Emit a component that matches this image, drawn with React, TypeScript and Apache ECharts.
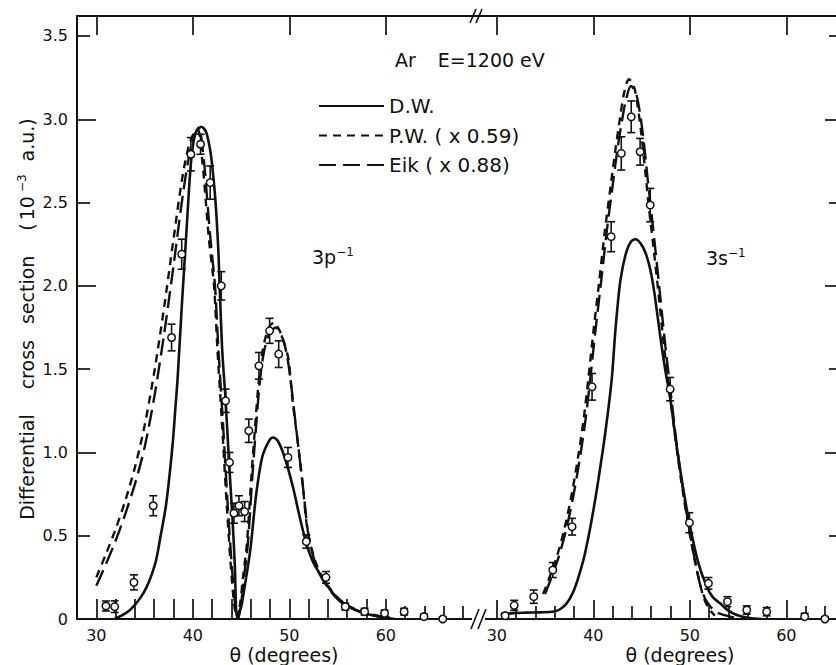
import React, { useEffect, useRef } from "react";
import * as echarts from "echarts";

const FONT = "'DejaVu Sans', 'Liberation Sans', sans-serif";
const INK = "#111111";

// ---------- 3p^-1 panel (left) ----------
const DW_3P_X = [31.9, 32.6, 33.3, 34.0, 34.6, 35.2, 35.7, 36.2, 36.7, 37.2, 37.6, 37.94, 38.2, 38.43, 38.84, 39.33, 39.77, 40.1, 40.4, 40.9, 41.4, 41.84, 42.1, 42.36, 42.64, 42.78, 43.06, 43.4, 43.74, 44.1, 44.36, 44.55, 44.75, 45.0, 45.25, 45.95, 46.55, 47.2, 47.9, 48.3, 48.8, 49.5, 50.37, 51.07, 51.76, 52.4, 53.14, 54.52, 55.9, 57.3, 59.0, 60.4];
const DW_3P_Y = [0, 0.02, 0.045, 0.085, 0.13, 0.19, 0.26, 0.354, 0.51, 0.674, 0.87, 1.07, 1.27, 1.45, 1.86, 2.315, 2.715, 2.875, 2.93, 2.955, 2.92, 2.8, 2.67, 2.5, 2.22, 2.0, 1.6, 1.315, 0.954, 0.614, 0.314, 0.02, 0.04, 0.07, 0.15, 0.41, 0.74, 0.974, 1.07, 1.09, 1.07, 0.974, 0.794, 0.614, 0.454, 0.35, 0.274, 0.154, 0.084, 0.044, 0.018, 0.008];

const PW_3P_X = [30.0, 31.0, 32.0, 33.0, 34.0, 35.0, 36.0, 37.0, 38.0, 39.0, 39.8, 40.5, 41.0, 41.33, 41.67, 42.2, 42.55, 43.0, 43.5, 43.9, 44.3, 44.6, 44.9, 45.2, 45.6, 46.1, 46.45, 46.8, 47.2, 47.8, 48.4, 49.0, 49.5, 49.93, 50.3, 50.9, 51.4, 51.9, 52.8, 54.0, 55.55, 57.3, 59.5, 61.0];
const PW_3P_Y = [0.25, 0.39, 0.54, 0.71, 0.91, 1.16, 1.48, 1.86, 2.28, 2.68, 2.88, 2.94, 2.74, 2.52, 2.28, 2.0, 1.62, 1.2, 0.7, 0.35, 0.08, 0.0, 0.09, 0.25, 0.45, 0.88, 1.15, 1.405, 1.6, 1.74, 1.78, 1.73, 1.65, 1.555, 1.33, 1.05, 0.8, 0.53, 0.33, 0.2, 0.1, 0.05, 0.015, 0.0];

const EIK_3P_X = [30.0, 31.0, 32.0, 33.0, 34.0, 35.0, 36.0, 37.0, 38.0, 39.0, 39.8, 40.6, 41.1, 41.45, 41.8, 42.3, 42.65, 43.1, 43.6, 44.0, 44.4, 44.7, 45.0, 45.3, 45.7, 46.2, 46.55, 46.9, 47.3, 47.9, 48.6, 49.2, 49.7, 50.1, 50.5, 51.0, 51.5, 52.0, 52.9, 54.1, 55.6, 57.3, 59.5, 61.0];
const EIK_3P_Y = [0.2, 0.33, 0.47, 0.63, 0.81, 1.03, 1.33, 1.7, 2.12, 2.56, 2.83, 2.95, 2.78, 2.55, 2.3, 2.0, 1.62, 1.2, 0.7, 0.35, 0.08, 0.0, 0.09, 0.25, 0.45, 0.88, 1.15, 1.4, 1.58, 1.71, 1.75, 1.7, 1.6, 1.45, 1.25, 1.0, 0.75, 0.5, 0.3, 0.18, 0.09, 0.045, 0.012, 0.0];

const EXP_3P_ANGLE = [31.0, 31.9, 33.9, 35.9, 37.8, 38.85, 39.8, 40.8, 41.8, 42.95, 43.4, 43.8, 44.26, 44.78, 45.37, 45.8, 46.85, 47.96, 48.9, 49.86, 51.76, 53.8, 55.8, 57.8, 59.87, 61.9, 63.95, 65.9];
const EXP_3P_VALUE = [0.078, 0.074, 0.22, 0.68, 1.69, 2.19, 2.79, 2.85, 2.62, 2.0, 1.31, 0.94, 0.635, 0.68, 0.645, 1.13, 1.52, 1.73, 1.59, 0.97, 0.465, 0.25, 0.074, 0.044, 0.034, 0.044, 0.014, 0.0];
const EXP_3P_ERROR = [0.03, 0.035, 0.045, 0.06, 0.08, 0.09, 0.1, 0.06, 0.1, 0.085, 0.07, 0.06, 0.06, 0.06, 0.06, 0.07, 0.08, 0.075, 0.08, 0.06, 0.04, 0.035, 0.02, 0.02, 0.02, 0.02, 0.015, 0.01];

// ---------- 3s^-1 panel (right) ----------
const DW_3S_X = [30.4, 31.7, 33.0, 34.5, 35.9, 36.6, 37.25, 37.9, 38.4, 39.0, 39.5, 40.0, 40.43, 41.2, 41.9, 42.3, 42.8, 43.4, 43.9, 44.4, 44.9, 45.4, 45.9, 46.3, 46.7, 47.1, 47.5, 47.96, 48.65, 49.34, 50.03, 50.9, 51.76, 52.4, 53.14, 54.0, 54.87, 56.0, 57.5];
const DW_3S_Y = [0.025, 0.035, 0.038, 0.04, 0.045, 0.06, 0.094, 0.16, 0.24, 0.36, 0.494, 0.65, 0.8, 1.1, 1.434, 1.74, 2.03, 2.2, 2.265, 2.28, 2.255, 2.2, 2.1, 1.97, 1.8, 1.63, 1.48, 1.33, 1.034, 0.774, 0.554, 0.334, 0.194, 0.13, 0.094, 0.05, 0.024, 0.008, 0.0];

const PW_3S_X = [34.8, 35.4, 36.2, 37.0, 37.8, 38.5, 39.0, 39.5, 40.0, 40.6, 41.2, 41.8, 42.3, 42.8, 43.2, 43.7, 44.2, 44.6, 45.0, 45.4, 45.8, 46.3, 46.8, 47.3, 47.96, 48.65, 49.34, 50.03, 50.6, 51.1, 51.5, 52.0, 52.6];
const PW_3S_Y = [0.15, 0.24, 0.37, 0.54, 0.76, 1.0, 1.2, 1.45, 1.72, 2.02, 2.33, 2.6, 2.82, 3.02, 3.16, 3.24, 3.2, 3.08, 2.9, 2.68, 2.45, 2.2, 1.93, 1.65, 1.34, 1.02, 0.74, 0.5, 0.33, 0.2, 0.12, 0.06, 0.02];

const EIK_3S_X = [35.0, 35.6, 36.4, 37.2, 38.0, 38.7, 39.2, 39.7, 40.2, 40.8, 41.4, 42.0, 42.5, 43.0, 43.4, 43.9, 44.4, 44.8, 45.2, 45.6, 46.0, 46.5, 47.0, 47.5, 48.1, 48.7, 49.4, 50.0, 50.6, 51.1, 51.6, 52.2, 52.8, 53.5, 54.5, 55.5];
const EIK_3S_Y = [0.15, 0.24, 0.37, 0.54, 0.76, 1.0, 1.2, 1.45, 1.72, 2.02, 2.33, 2.6, 2.82, 3.0, 3.12, 3.2, 3.16, 3.05, 2.88, 2.66, 2.45, 2.18, 1.9, 1.62, 1.32, 1.02, 0.74, 0.52, 0.33, 0.2, 0.12, 0.07, 0.04, 0.025, 0.01, 0.0];

const EXP_3S_ANGLE = [30.86, 31.8, 33.83, 35.8, 37.8, 39.87, 41.85, 42.9, 43.93, 44.85, 45.9, 47.96, 49.96, 51.93, 53.9, 55.9, 57.97, 61.9, 64.0];
const EXP_3S_VALUE = [0.02, 0.082, 0.134, 0.294, 0.554, 1.394, 2.295, 2.795, 3.015, 2.805, 2.485, 1.38, 0.578, 0.214, 0.104, 0.054, 0.044, 0.014, 0.0];
const EXP_3S_ERROR = [0.015, 0.03, 0.04, 0.045, 0.05, 0.08, 0.09, 0.1, 0.095, 0.08, 0.1, 0.07, 0.06, 0.035, 0.03, 0.025, 0.025, 0.02, 0.01];

// ---------- axes ----------
const Y_LABELS = [0, 0.5, 1.0, 1.5, 2.0, 2.5, 3.0, 3.5];
const Y_MAJOR_TICKS = [1, 2, 3];
const Y_MINOR_TICKS = [0.5, 1.5, 2.5, 3.5];
const X_LABELS = [30, 40, 50, 60];
const LEFT_LONG_TICKS = [30, 32, 34, 36, 38, 40, 42, 44, 46, 48, 50, 52, 54, 56, 58, 60];
const LEFT_SHORT_TICKS = [62, 64, 66, 68];
const RIGHT_SHORT_TICKS = [32, 34, 36, 38, 42, 44, 46, 48, 52, 54, 56, 58, 62, 64];
const TOP_TICKS = [30, 40, 50, 60];

const SERIES_NAMES = ["D.W.", "P.W. ( x 0.59)", "Eik ( x 0.88)"];

const pairs = (xs: number[], ys: number[]) => xs.map((x, i) => [x, ys[i]]);
const bars = (xs: number[], ys: number[], es: number[]) =>
  xs.map((x, i) => [x, Math.max(0, ys[i] - es[i]), ys[i] + es[i], ys[i]]);

export default function App() {
  const ref = useRef<HTMLDivElement>(null);

  useEffect(() => {
    if (!ref.current) return;
    const chart = echarts.init(ref.current, null, { renderer: "svg" });

    const axisLine = { show: true, lineStyle: { color: INK, width: 2 } };
    const tickStyle = { color: INK, width: 1.7 };
    const noLabel = { show: false };
    const noSplit = { show: false };

    const xBase = (grid: number, max: number) => ({
      type: "value",
      gridIndex: grid,
      min: 28,
      max,
      splitLine: noSplit,
    });
    const yBase = (grid: number) => ({
      type: "value",
      gridIndex: grid,
      min: 0,
      max: 3.62,
      splitLine: noSplit,
    });

    const lineSeries = (name: string, x: number, y: number, data: number[][], type: any, width: number) => ({
      type: "line",
      name,
      xAxisIndex: x,
      yAxisIndex: y,
      data,
      symbol: "none",
      showSymbol: false,
      smooth: 0.3,
      z: 2,
      lineStyle: { color: INK, width, type },
      itemStyle: { color: INK },
    });

    const R = 4.2;
    const errorSeries = (x: number, y: number, data: number[][]) => ({
      type: "custom",
      xAxisIndex: x,
      yAxisIndex: y,
      data,
      z: 3,
      encode: { x: 0, y: [1, 2] },
      renderItem: (params: any, api: any) => {
        const xv = api.value(0);
        const lo = api.coord([xv, api.value(1)]);
        const hi = api.coord([xv, api.value(2)]);
        const c = api.coord([xv, api.value(3)]);
        const w = 4;
        const st = { stroke: INK, lineWidth: 1.6 };
        const children: any[] = [
          { type: "line", shape: { x1: hi[0] - w, y1: hi[1], x2: hi[0] + w, y2: hi[1] }, style: st },
          { type: "line", shape: { x1: lo[0] - w, y1: lo[1], x2: lo[0] + w, y2: lo[1] }, style: st },
        ];
        if (c[1] - R > hi[1]) {
          children.push({ type: "line", shape: { x1: hi[0], y1: hi[1], x2: c[0], y2: c[1] - R }, style: st });
        }
        if (lo[1] > c[1] + R) {
          children.push({ type: "line", shape: { x1: c[0], y1: c[1] + R, x2: lo[0], y2: lo[1] }, style: st });
        }
        return { type: "group", children };
      },
    });

    const pointSeries = (x: number, y: number, data: number[][]) => ({
      type: "scatter",
      xAxisIndex: x,
      yAxisIndex: y,
      data,
      symbol: "circle",
      symbolSize: 7.5,
      z: 4,
      itemStyle: { color: "#ffffff", borderColor: INK, borderWidth: 1.5, opacity: 1 },
    });

    const PW_DASH = [8, 6];
    const EIK_DASH = [17, 7];

    const option: any = {
      animation: false,
      backgroundColor: "#ffffff",
      textStyle: { fontFamily: FONT, color: INK },
      grid: [
        { left: 77, top: 16, width: 400.5, height: 603 },
        { left: 477.5, top: 16, width: 358.5, height: 603 },
      ],
      legend: {
        data: SERIES_NAMES,
        orient: "vertical",
        left: 318,
        top: 95,
        padding: 0,
        itemWidth: 65,
        itemHeight: 14,
        itemGap: 7.5,
        selectedMode: false,
        itemStyle: { opacity: 0 },
        textStyle: { fontFamily: FONT, fontSize: 20, color: INK, lineHeight: 22 },
      },
      xAxis: [
        {
          ...xBase(0, 69.5),
          position: "bottom",
          axisLine,
          axisTick: { show: true, inside: true, length: 20, customValues: LEFT_LONG_TICKS, lineStyle: tickStyle },
          axisLabel: { show: true, customValues: X_LABELS, fontSize: 16, fontFamily: FONT, color: INK, margin: 8 },
        },
        {
          ...xBase(0, 69.5),
          position: "bottom",
          axisLine: { show: false },
          axisTick: { show: true, inside: true, length: 13, customValues: LEFT_SHORT_TICKS, lineStyle: tickStyle },
          axisLabel: noLabel,
        },
        {
          ...xBase(0, 69.5),
          position: "top",
          axisLine,
          axisTick: { show: true, inside: true, length: 19, customValues: TOP_TICKS, lineStyle: tickStyle },
          axisLabel: noLabel,
        },
        {
          ...xBase(1, 65.15),
          position: "bottom",
          axisLine,
          axisTick: { show: true, inside: true, length: 19, customValues: X_LABELS, lineStyle: tickStyle },
          axisLabel: { show: true, customValues: X_LABELS, fontSize: 16, fontFamily: FONT, color: INK, margin: 8 },
        },
        {
          ...xBase(1, 65.15),
          position: "bottom",
          axisLine: { show: false },
          axisTick: { show: true, inside: true, length: 13, customValues: RIGHT_SHORT_TICKS, lineStyle: tickStyle },
          axisLabel: noLabel,
        },
        {
          ...xBase(1, 65.15),
          position: "top",
          axisLine,
          axisTick: { show: true, inside: true, length: 19, customValues: TOP_TICKS, lineStyle: tickStyle },
          axisLabel: noLabel,
        },
      ],
      yAxis: [
        {
          ...yBase(0),
          position: "left",
          axisLine,
          axisTick: { show: true, inside: true, length: 19, customValues: Y_MAJOR_TICKS, lineStyle: tickStyle },
          axisLabel: {
            show: true,
            customValues: Y_LABELS,
            fontSize: 16,
            fontFamily: FONT,
            color: INK,
            margin: 9,
            formatter: (v: number) => (v === 0 ? "0" : v.toFixed(1)),
          },
        },
        {
          ...yBase(0),
          position: "left",
          axisLine: { show: false },
          axisTick: { show: true, inside: true, length: 13, customValues: Y_MINOR_TICKS, lineStyle: tickStyle },
          axisLabel: noLabel,
        },
        {
          ...yBase(1),
          position: "right",
          axisLine: { show: false },
          axisTick: { show: true, inside: true, length: 11, customValues: Y_MAJOR_TICKS, lineStyle: tickStyle },
          axisLabel: noLabel,
        },
        {
          ...yBase(1),
          position: "right",
          axisLine: { show: false },
          axisTick: { show: true, inside: true, length: 7, customValues: Y_MINOR_TICKS, lineStyle: tickStyle },
          axisLabel: noLabel,
        },
      ],
      series: [
        lineSeries(SERIES_NAMES[0], 0, 0, pairs(DW_3P_X, DW_3P_Y), "solid", 2.6),
        lineSeries(SERIES_NAMES[1], 0, 0, pairs(PW_3P_X, PW_3P_Y), PW_DASH, 2.4),
        lineSeries(SERIES_NAMES[2], 0, 0, pairs(EIK_3P_X, EIK_3P_Y), EIK_DASH, 2.4),
        lineSeries(SERIES_NAMES[0], 3, 2, pairs(DW_3S_X, DW_3S_Y), "solid", 2.6),
        lineSeries(SERIES_NAMES[1], 3, 2, pairs(PW_3S_X, PW_3S_Y), PW_DASH, 2.4),
        lineSeries(SERIES_NAMES[2], 3, 2, pairs(EIK_3S_X, EIK_3S_Y), EIK_DASH, 2.4),
        errorSeries(0, 0, bars(EXP_3P_ANGLE, EXP_3P_VALUE, EXP_3P_ERROR)),
        errorSeries(3, 2, bars(EXP_3S_ANGLE, EXP_3S_VALUE, EXP_3S_ERROR)),
        pointSeries(0, 0, pairs(EXP_3P_ANGLE, EXP_3P_VALUE)),
        pointSeries(3, 2, pairs(EXP_3S_ANGLE, EXP_3S_VALUE)),
      ],
      graphic: [
        // y axis title
        {
          type: "text",
          x: 27,
          y: 319,
          rotation: Math.PI / 2,
          z: 10,
          style: {
            text: "{a|Differential}{g1|cross}{g2|section}{g3|(}{t|10}{s|−3}{u|a.u.)}",
            align: "center",
            verticalAlign: "middle",
            fill: INK,
            rich: {
              a: { fontSize: 19, fontFamily: FONT, fill: INK, lineHeight: 22 },
              g1: { fontSize: 19, fontFamily: FONT, fill: INK, lineHeight: 22, padding: [0, 0, 0, 25] },
              g2: { fontSize: 19, fontFamily: FONT, fill: INK, lineHeight: 22, padding: [0, 0, 0, 16] },
              g3: { fontSize: 19, fontFamily: FONT, fill: INK, lineHeight: 22, padding: [0, 0, 0, 25] },
              t: { fontSize: 19, fontFamily: FONT, fill: INK, lineHeight: 22, padding: [0, 0, 0, 3] },
              s: { fontSize: 12, fontFamily: FONT, fill: INK, lineHeight: 13, verticalAlign: "top", padding: [0, 0, 0, 4] },
              u: { fontSize: 19, fontFamily: FONT, fill: INK, lineHeight: 22, padding: [0, 0, 0, 13] },
            },
          },
        },
        // x axis titles
        {
          type: "text",
          x: 284,
          y: 655,
          z: 10,
          style: { text: "θ (degrees)", fontSize: 19, fontFamily: FONT, fill: INK, align: "center", verticalAlign: "middle" },
        },
        {
          type: "text",
          x: 680,
          y: 655,
          z: 10,
          style: { text: "θ (degrees)", fontSize: 19, fontFamily: FONT, fill: INK, align: "center", verticalAlign: "middle" },
        },
        // header
        {
          type: "text",
          x: 395,
          y: 60,
          z: 10,
          style: {
            text: "{a|Ar}{g|E=1200 eV}",
            align: "left",
            verticalAlign: "middle",
            rich: {
              a: { fontSize: 19, fontFamily: FONT, fill: INK },
              g: { fontSize: 19, fontFamily: FONT, fill: INK, padding: [0, 0, 0, 22] },
            },
          },
        },
        // panel labels
        {
          type: "text",
          x: 312,
          y: 257,
          z: 10,
          style: {
            text: "{a|3p}{b|−1}",
            align: "left",
            verticalAlign: "middle",
            rich: {
              a: { fontSize: 19, fontFamily: FONT, fill: INK, lineHeight: 22 },
              b: { fontSize: 12, fontFamily: FONT, fill: INK, lineHeight: 12, verticalAlign: "top" },
            },
          },
        },
        {
          type: "text",
          x: 706,
          y: 258,
          z: 10,
          style: {
            text: "{a|3s}{b|−1}",
            align: "left",
            verticalAlign: "middle",
            rich: {
              a: { fontSize: 19, fontFamily: FONT, fill: INK, lineHeight: 22 },
              b: { fontSize: 12, fontFamily: FONT, fill: INK, lineHeight: 12, verticalAlign: "top" },
            },
          },
        },
        // axis breaks
        { type: "line", z: 20, shape: { x1: 470, y1: 23, x2: 476, y2: 9 }, style: { stroke: INK, lineWidth: 1.6 } },
        { type: "line", z: 20, shape: { x1: 476, y1: 23, x2: 482, y2: 9 }, style: { stroke: INK, lineWidth: 1.6 } },
        { type: "rect", z: 19, shape: { x: 472, y: 616, width: 13, height: 6 }, style: { fill: "#ffffff" } },
        { type: "line", z: 20, shape: { x1: 471, y1: 629, x2: 479, y2: 609 }, style: { stroke: INK, lineWidth: 1.6 } },
        { type: "line", z: 20, shape: { x1: 478, y1: 629, x2: 486, y2: 609 }, style: { stroke: INK, lineWidth: 1.6 } },
      ],
    };

    chart.setOption(option);
    return () => chart.dispose();
  }, []);

  return (
    <div
      ref={ref}
      style={{ position: "fixed", left: 0, top: 0, width: 836, height: 665, background: "#ffffff" }}
    />
  );
}
